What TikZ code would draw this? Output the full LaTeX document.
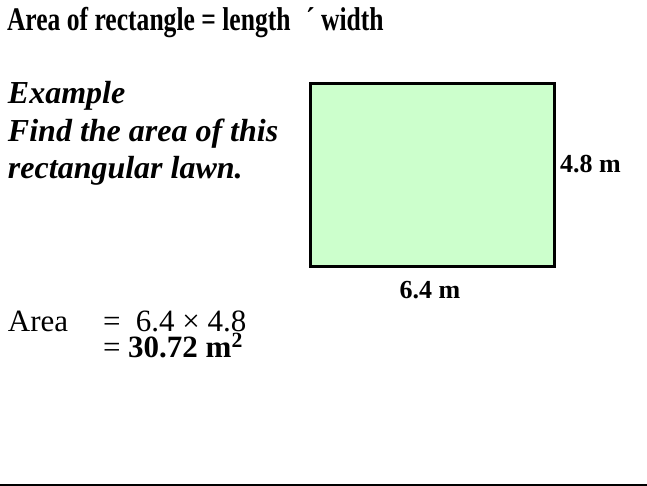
\documentclass[tikz,border=0pt]{standalone}
\usepackage{fontspec}
\setmainfont{Liberation Serif}
\definecolor{lawn}{HTML}{CCFFCC}
\begin{document}
\begin{tikzpicture}[x=1pt,y=-1pt,
  txt/.style={anchor=base west,inner sep=0pt,outer sep=0pt},
  big/.style={txt,font=\fontsize{31}{34}\selectfont},
  ital/.style={txt,font=\bfseries\itshape\fontsize{32}{36}\selectfont},
  lab/.style={inner sep=0pt,font=\bfseries\fontsize{26}{30}\selectfont}]
\useasboundingbox (0,0) rectangle (647,486);
\node[txt,font=\bfseries\fontsize{33}{36}\selectfont] (title) at (7,31) {\scalebox{0.775}[1]{Area of rectangle = length\hspace{12pt} ´ width}};
\node[ital] (ex1) at (8,104) {Example};
\node[ital] (ex2) at (8,142) {Find the area of this};
\node[ital] (ex3) at (8,179) {rectangular lawn.};
\draw[line width=3pt,fill=lawn,line join=miter] (310,84) rectangle (554,266);
\node[lab,anchor=base west] (w) at (560,173) {4.8 m};
\node[lab,anchor=base] (l) at (430,298) {6.4 m};
\node[big] (a1) at (8,331) {Area};
\node[big] (a2) at (103,331) {= \ 6.4 × 4.8};
\node[big] (a3) at (103,357) {= \textbf{30.72 m\textsuperscript{2}}};
\draw[line width=1.5pt] (0,485) -- (647,485);
\end{tikzpicture}
\end{document}
